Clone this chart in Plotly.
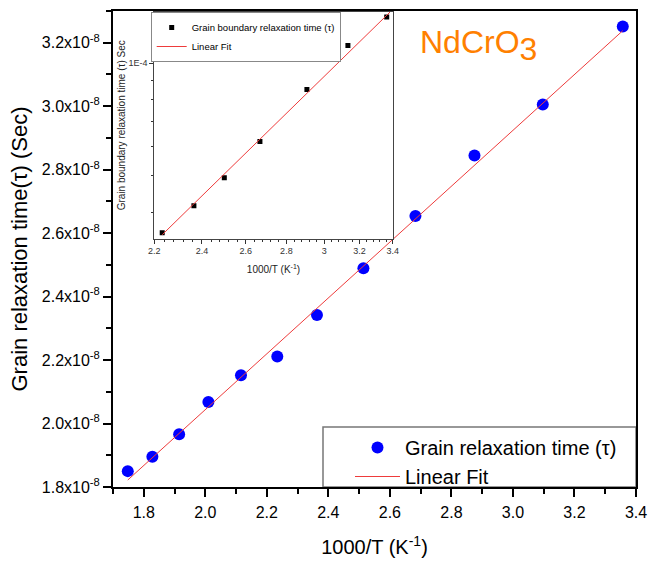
import plotly.graph_objects as go

# ---------------- data ----------------
x_main = [1.748, 1.828, 1.915, 2.010, 2.116, 2.234, 2.363, 2.514, 2.683, 2.875, 3.097, 3.357]
y_main_e8 = [1.850, 1.895, 1.966, 2.068, 2.152, 2.211, 2.342, 2.489, 2.654, 2.845, 3.005, 3.251]
fit_x = [1.748, 3.357]
fit_y_e8 = [1.822, 3.238]

inset_x = [2.232, 2.365, 2.500, 2.668, 2.907, 3.133, 3.363]
inset_y = [3.52e-5, 4.16e-5, 4.94e-5, 6.18e-5, 8.50e-5, 1.114e-4, 1.328e-4]
inset_fit_x = [2.232, 3.384]
inset_fit_y = [3.48e-5, 1.37e-4]

y_ticks_e8 = [1.8, 2.0, 2.2, 2.4, 2.6, 2.8, 3.0, 3.2]
y_ticktext = [f"{v:.1f}x10<sup>-8</sup>" for v in y_ticks_e8]
inset_x_ticks = [2.2, 2.4, 2.6, 2.8, 3.0, 3.2, 3.4]
inset_x_ticktext = ["2.2", "2.4", "2.6", "2.8", "3", "3.2", "3.4"]
inset_x_minor = [2.24, 2.28, 2.32, 2.36, 2.44, 2.48, 2.52, 2.56, 2.64, 2.68, 2.72, 2.76,
                 2.84, 2.88, 2.92, 2.96, 3.04, 3.08, 3.12, 3.16, 3.24, 3.28, 3.32, 3.36]
inset_y_ticks = [1e-4]
inset_y_ticktext = ["1E-4"]
inset_y_minor = [4e-5, 5e-5, 6e-5, 7e-5, 8e-5, 9e-5]

FONT = "Arial, Liberation Sans, sans-serif"

fig = go.Figure()
fig.add_trace(go.Scatter(
    x=x_main, y=[v * 1e-8 for v in y_main_e8], mode="markers",
    marker=dict(color="#0000FF", size=12), name="Grain relaxation time (τ)", legend="legend"))
fig.add_trace(go.Scatter(
    x=fit_x, y=[v * 1e-8 for v in fit_y_e8], mode="lines",
    line=dict(color="#EE3B3B", width=1), name="Linear Fit", legend="legend"))
fig.add_trace(go.Scatter(
    x=inset_x, y=inset_y, xaxis="x2", yaxis="y2", mode="markers",
    marker=dict(color="black", size=5, symbol="square"),
    name="Grain boundary relaxation time (τ)", legend="legend2"))
fig.add_trace(go.Scatter(
    x=inset_fit_x, y=inset_fit_y, xaxis="x2", yaxis="y2", mode="lines",
    line=dict(color="#EE3B3B", width=1), name="Linear Fit", legend="legend2"))

W, H = 649, 564
L, R, T, B = 113, 13, 11, 77
pw, ph = W - L - R, H - T - B


def px_x(p):
    return (p - L) / pw


def px_y(p):
    return (H - B - p) / ph


fig.update_layout(
    width=W, height=H,
    margin=dict(l=L, r=R, t=T, b=B, autoexpand=False),
    paper_bgcolor="white", plot_bgcolor="white",
    font=dict(family=FONT, color="black"),
    xaxis=dict(
        range=[1.7, 3.4], tickmode="linear", tick0=1.8, dtick=0.2, tickformat=".1f",
        ticks="outside", ticklen=8, tickwidth=2, tickcolor="black",
        showline=True, linecolor="black", linewidth=2, mirror=True,
        showgrid=False, zeroline=False, automargin=False,
        minor=dict(tickmode="linear", tick0=1.7, dtick=0.1, ticks="outside",
                   ticklen=5, tickwidth=2, tickcolor="black", showgrid=False),
        tickfont=dict(size=16, family=FONT, color="black"), ticklabelstandoff=2,
        title=dict(text="1000/T (K<sup>-1</sup>)", font=dict(size=20, family=FONT), standoff=20),
    ),
    yaxis=dict(
        range=[1.8e-8, 3.3e-8], tickmode="array",
        tickvals=[v * 1e-8 for v in y_ticks_e8], ticktext=y_ticktext,
        ticks="outside", ticklen=8, tickwidth=2, tickcolor="black",
        showline=True, linecolor="black", linewidth=2, mirror=True,
        showgrid=False, zeroline=False, automargin=False,
        minor=dict(tickmode="linear", tick0=1.8e-8, dtick=0.1e-8, ticks="outside",
                   ticklen=5, tickwidth=2, tickcolor="black", showgrid=False),
        tickfont=dict(size=16, family=FONT, color="black"),
        title=dict(text="Grain relaxation time(τ) (Sec)", font=dict(size=22, family=FONT), standoff=8),
    ),
    xaxis2=dict(
        type="log", domain=[px_x(154.3), px_x(392.7)], anchor="y2",
        range=[0.34242, 0.53148], tickmode="array", tickvals=inset_x_ticks, ticktext=inset_x_ticktext,
        ticks="outside", ticklen=4, tickwidth=1, tickcolor="#333",
        showline=True, linecolor="#444", linewidth=1, mirror=True,
        showgrid=False, zeroline=False, automargin=False,
        minor=dict(tickmode="array", tickvals=inset_x_minor, ticks="outside", ticklen=2,
                   tickwidth=1, tickcolor="#333", showgrid=False),
        tickfont=dict(size=9, family=FONT, color="#333"),
        title=dict(text="1000/T (K<sup>-1</sup>)", font=dict(size=10, family=FONT, color="#222"), standoff=10),
    ),
    yaxis2=dict(
        type="log", domain=[px_y(238.5), px_y(12)], anchor="x2",
        range=[-4.4685, -3.8633], tickmode="array", tickvals=inset_y_ticks, ticktext=inset_y_ticktext,
        ticks="outside", ticklen=4, tickwidth=1, tickcolor="#333",
        showline=True, linecolor="#444", linewidth=1, mirror=True,
        showgrid=False, zeroline=False, automargin=False,
        minor=dict(tickmode="array", tickvals=inset_y_minor, ticks="outside", ticklen=2,
                   tickwidth=1, tickcolor="#333", showgrid=False),
        tickfont=dict(size=9, family=FONT, color="#333"),
        title=dict(text="Grain boundary relaxation time (τ) Sec",
                   font=dict(size=10, family=FONT, color="#222"), standoff=0),
    ),
    legend=dict(
        x=px_x(350), y=px_y(428), xanchor="left", yanchor="top",
        bgcolor="rgba(0,0,0,0)", borderwidth=0, itemwidth=45,
        font=dict(size=20, family=FONT, color="black"),
    ),
    legend2=dict(
        x=px_x(150.7), y=px_y(12), xanchor="left", yanchor="top",
        bgcolor="white", bordercolor="#888", borderwidth=1, itemwidth=30,
        font=dict(size=9.5, family=FONT, color="black"),
    ),
    shapes=[dict(type="rect", xref="paper", yref="paper",
                 x0=px_x(323), x1=1.0, y0=0.0, y1=px_y(427),
                 line=dict(color="#777", width=1.5), fillcolor="white", layer="below")],
    annotations=[dict(
        text="NdCrO<sub><span style='font-size:32px'>3</span></sub>",
        xref="paper", yref="paper", x=px_x(418), y=px_y(46),
        xanchor="left", yanchor="middle", showarrow=False,
        font=dict(size=32, family=FONT, color="#FF8000"))],
)

fig.write_html("out.html", config={"displayModeBar": False},
               post_script="document.body.style.margin='0px';")
